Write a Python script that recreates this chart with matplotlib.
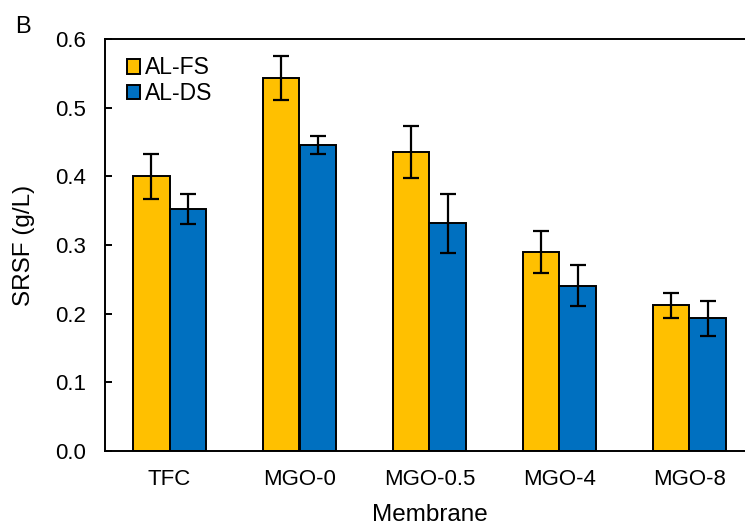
import matplotlib.pyplot as plt
import numpy as np

plt.rcParams['font.family'] = ['Liberation Sans', 'DejaVu Sans']

membranas = ['TFC', 'MGO-0', 'MGO-0.5', 'MGO-4', 'MGO-8']
al_fs = [0.400, 0.543, 0.435, 0.290, 0.212]
al_fs_err = [0.033, 0.032, 0.038, 0.031, 0.018]
al_ds = [0.353, 0.446, 0.332, 0.241, 0.193]
al_ds_err = [0.022, 0.013, 0.043, 0.030, 0.025]

x = np.arange(len(membranas))
w = 0.277

fig = plt.figure(figsize=(7.45, 5.27), dpi=100)
ax = fig.add_axes([104.5/745, 1-451/527, 650/745, (451-39)/527])

err_kw = dict(ecolor='black', elinewidth=1.6, capsize=5.5, capthick=1.6)
ax.bar(x - w/2, al_fs, w, yerr=al_fs_err, color='#FFC000', edgecolor='black',
       linewidth=1.4, label='AL-FS', error_kw=err_kw)
ax.bar(x + w/2, al_ds, w, yerr=al_ds_err, color='#0070C0', edgecolor='black',
       linewidth=1.4, label='AL-DS', error_kw=err_kw)

ax.set_xlim(-0.5, 4.5)
ax.set_ylim(0, 0.6)
ax.set_yticks(np.arange(0, 0.61, 0.1))
ax.set_yticklabels(['%.1f' % v for v in np.arange(0, 0.61, 0.1)])
ax.set_xticks(x)
ax.set_xticklabels(membranas)
ax.tick_params(axis='y', direction='in', length=5, width=1.4, labelsize=16, pad=13)
ax.tick_params(axis='x', length=0, labelsize=16, pad=13)
for s in ax.spines.values():
    s.set_linewidth(1.4)
ax.spines['right'].set_visible(False)

ax.set_xlabel('Membrane', fontsize=17.5, labelpad=10)
ax.set_ylabel('SRSF (g/L)', fontsize=17.5, labelpad=15)

ax.legend(loc='upper left', fontsize=16.5, frameon=False, handlelength=0.6,
          handleheight=0.6, handletextpad=0.2, labelspacing=0.12,
          borderaxespad=0.0, bbox_to_anchor=(0.02, 0.98))

fig.text(15/745, 1-27/527, 'B', fontsize=17, va='center', ha='left')

fig.savefig('out.png', dpi=100)
